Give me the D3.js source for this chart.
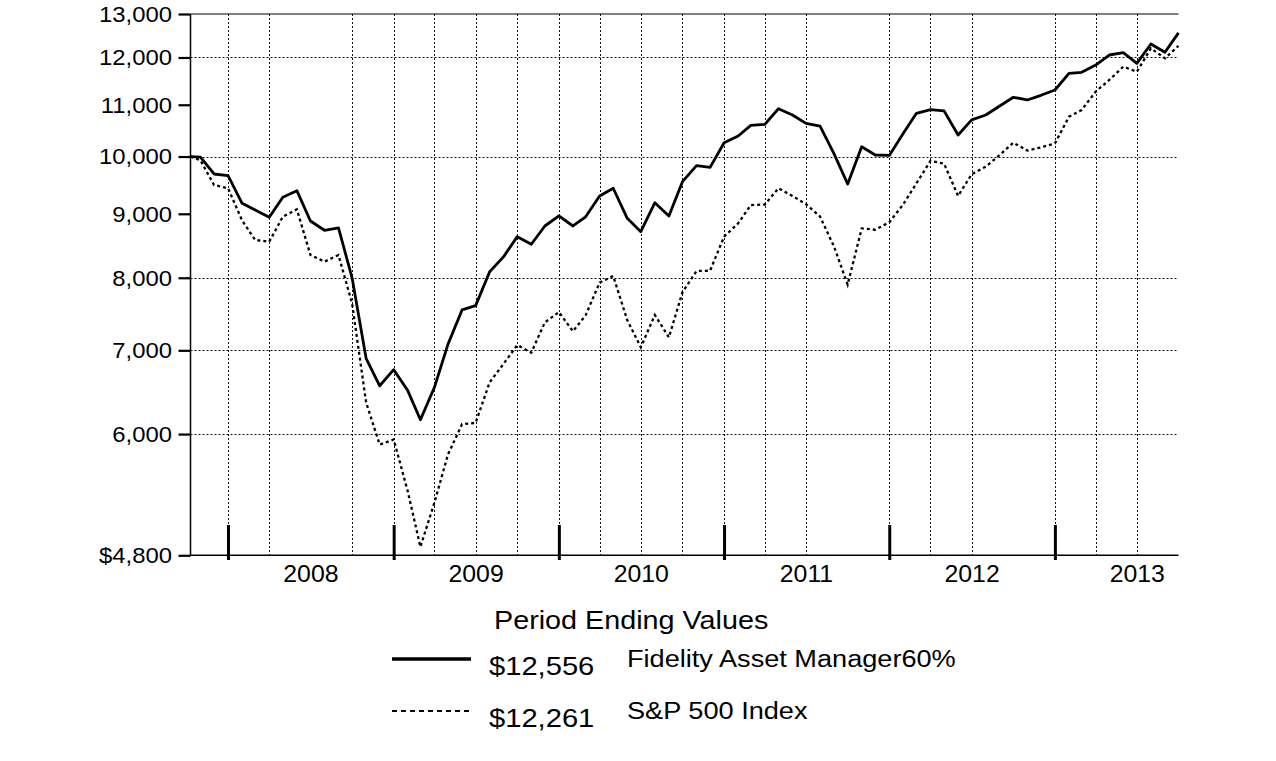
<!DOCTYPE html>
<html>
<head>
<meta charset="utf-8">
<script src="https://cdn.jsdelivr.net/npm/d3@7"></script>
<style>
  html, body { margin: 0; padding: 0; background: #fff; }
  svg { display: block; }
  text { font-family: "Liberation Sans", Arial, sans-serif; fill: #000; }
</style>
</head>
<body>
<script>
// ---------------- data ----------------
const dates = [
  "2007-10-09","2007-10-31","2007-11-30","2007-12-31",
  "2008-01-31","2008-02-29","2008-03-31","2008-04-30","2008-05-31","2008-06-30",
  "2008-07-31","2008-08-31","2008-09-30","2008-10-31","2008-11-30","2008-12-31",
  "2009-01-31","2009-02-28","2009-03-31","2009-04-30","2009-05-31","2009-06-30",
  "2009-07-31","2009-08-31","2009-09-30","2009-10-31","2009-11-30","2009-12-31",
  "2010-01-31","2010-02-28","2010-03-31","2010-04-30","2010-05-31","2010-06-30",
  "2010-07-31","2010-08-31","2010-09-30","2010-10-31","2010-11-30","2010-12-31",
  "2011-01-31","2011-02-28","2011-03-31","2011-04-30","2011-05-31","2011-06-30",
  "2011-07-31","2011-08-31","2011-09-30","2011-10-31","2011-11-30","2011-12-31",
  "2012-01-31","2012-02-29","2012-03-31","2012-04-30","2012-05-31","2012-06-30",
  "2012-07-31","2012-08-31","2012-09-30","2012-10-31","2012-11-30","2012-12-31",
  "2013-01-31","2013-02-28","2013-03-31","2013-04-30","2013-05-31","2013-06-30",
  "2013-07-31","2013-08-31","2013-09-30"
];

const fundValues = [
  10000, 9990, 9684, 9654,
  9176, 9062, 8942, 9277, 9391, 8881, 8731, 8768, 8000, 6898, 6558, 6755,
  6500, 6160, 6540, 7080, 7540, 7600, 8090, 8317, 8629, 8509, 8800, 8964,
  8800, 8950, 9299, 9433, 8925, 8709, 9186, 8964, 9548, 9833, 9803, 10258,
  10386, 10591, 10610, 10920, 10795, 10630, 10578, 10050, 9507, 10183, 10028, 10020,
  10437, 10828, 10900, 10877, 10405, 10697, 10795, 10974, 11153, 11097, 11193, 11303,
  11656, 11677, 11835, 12055, 12107, 11872, 12302, 12115, 12556
];

const spValues = [
  10000, 9930, 9490, 9433,
  8890, 8576, 8550, 8952, 9074, 8342, 8241, 8342, 7630, 6360, 5885, 5940,
  5400, 4875, 5290, 5780, 6110, 6125, 6600, 6830, 7068, 6970, 7370, 7510,
  7250, 7465, 7930, 8026, 7400, 7040, 7470, 7170, 7790, 8100, 8105, 8629,
  8843, 9146, 9155, 9433, 9300, 9160, 8955, 8471, 7900, 8760, 8740, 8860,
  9160, 9520, 9920, 9870, 9300, 9680, 9815, 10028, 10258, 10110, 10170, 10245,
  10761, 10894, 11268, 11513, 11799, 11690, 12204, 11982, 12261
];

const seriesNames = ["Fidelity Asset Manager60%", "S&P 500 Index"];
const endingLabels = ["$12,556", "$12,261"];
const legendTitle = "Period Ending Values";

const yTickValues = [4800, 6000, 7000, 8000, 9000, 10000, 11000, 12000, 13000];
const yTickLabels = ["$4,800", "6,000", "7,000", "8,000", "9,000", "10,000", "11,000", "12,000", "13,000"];
const yGridValues = [6000, 7000, 8000, 10000, 12000];

const yearTickDates = ["2008-01-01","2009-01-01","2010-01-01","2011-01-01","2012-01-01","2013-01-01"];
const yearLabels = ["2008","2009","2010","2011","2012","2013"];
const yearLabelDates = ["2008-07-01","2009-07-01","2010-07-01","2011-07-01","2012-07-01","2013-07-01"];
const xGridDates = [
  "2007-12-31","2008-03-31","2008-09-30","2008-12-31",
  "2009-03-31","2009-06-30","2009-09-30","2009-12-31",
  "2010-03-31","2010-06-30","2010-09-30","2010-12-31",
  "2011-03-31","2011-06-30","2011-12-31",
  "2012-03-31","2012-06-30","2012-12-31",
  "2013-03-31","2013-06-30"
];

// ---------------- layout ----------------
const W = 1276, H = 761;
const pL = 190.5, pR = 1178.5, pT = 14, pB = 555.3;
const parse = s => new Date(s + "T00:00:00Z");

const svg = d3.select("body").append("svg").attr("width", W).attr("height", H);

const x = d3.scaleUtc()
  .domain([parse(dates[0]), parse(dates[dates.length - 1])])
  .range([pL, pR]);
const y = d3.scaleLog().domain([4800, 13000]).range([pB, pT]);

// grid
const grid = svg.append("g");
grid.selectAll("line.hg").data(yGridValues).join("line")
  .attr("x1", pL).attr("x2", pR)
  .attr("y1", d => Math.round(y(d)) + 0.5).attr("y2", d => Math.round(y(d)) + 0.5)
  .attr("stroke", "#111").attr("stroke-width", 1).attr("stroke-dasharray", "2,2");
grid.selectAll("line.vg").data(xGridDates).join("line")
  .attr("x1", d => Math.round(x(parse(d))) + 0.5).attr("x2", d => Math.round(x(parse(d))) + 0.5)
  .attr("y1", pT).attr("y2", pB)
  .attr("stroke", "#111").attr("stroke-width", 1).attr("stroke-dasharray", "2,2");

// frame: top line, bottom axis line, left axis
svg.append("line").attr("x1", pL).attr("x2", pR).attr("y1", pT).attr("y2", pT)
  .attr("stroke", "#000").attr("stroke-width", 1.2);
svg.append("line").attr("x1", pL).attr("x2", pR).attr("y1", pB).attr("y2", pB)
  .attr("stroke", "#000").attr("stroke-width", 1.5);

const yAxis = d3.axisLeft(y).tickValues(yTickValues).tickSize(12).tickFormat("");
const yg = svg.append("g").attr("transform", `translate(${pL},0)`).call(yAxis);
yg.select(".domain").attr("stroke", "#000").attr("stroke-width", 1.5).attr("d", `M0,${pT}V${pB}`);
yg.selectAll(".tick line").attr("stroke", "#000").attr("stroke-width", 2.2);

// y labels (slightly widened glyphs like the reference)
svg.append("g").selectAll("text").data(yTickValues).join("text")
  .attr("transform", d => `translate(172,${y(d)}) scale(1.11,1)`)
  .attr("text-anchor", "end").attr("dy", "0.36em")
  .style("font-size", "21.5px")
  .text((d, i) => yTickLabels[i]);

// year ticks
svg.append("g").selectAll("line").data(yearTickDates).join("line")
  .attr("x1", d => x(parse(d))).attr("x2", d => x(parse(d)))
  .attr("y1", 525).attr("y2", 560)
  .attr("stroke", "#000").attr("stroke-width", 3);

// year labels
svg.append("g").selectAll("text").data(yearLabelDates).join("text")
  .attr("transform", d => `translate(${x(parse(d))},582) scale(1.08,1)`)
  .attr("text-anchor", "middle")
  .style("font-size", "23px")
  .text((d, i) => yearLabels[i]);

// series lines
const mk = vals => dates.map((d, i) => ({ date: parse(d), value: vals[i] }));
const line = d3.line().x(d => x(d.date)).y(d => y(d.value));

svg.append("path").datum(mk(spValues))
  .attr("d", line).attr("fill", "none").attr("stroke", "#000")
  .attr("stroke-width", 2.3).attr("stroke-dasharray", "3,3");
svg.append("path").datum(mk(fundValues))
  .attr("d", line).attr("fill", "none").attr("stroke", "#000")
  .attr("stroke-width", 2.8).attr("stroke-linejoin", "round");

// legend
svg.append("text").attr("transform", "translate(494,629) scale(1.15,1)")
  .style("font-size", "25px").text(legendTitle);

const lg = svg.append("g");
lg.append("line").attr("x1", 392).attr("x2", 471).attr("y1", 659).attr("y2", 659)
  .attr("stroke", "#000").attr("stroke-width", 3.5);
lg.append("line").attr("x1", 392).attr("x2", 470).attr("y1", 711).attr("y2", 711)
  .attr("stroke", "#000").attr("stroke-width", 2).attr("stroke-dasharray", "5,4");

lg.selectAll("text.val").data(endingLabels).join("text").attr("class", "val")
  .attr("transform", (d, i) => `translate(489,${675 + i * 52}) scale(1.1,1)`)
  .style("font-size", "26.5px").text(d => d);
lg.selectAll("text.name").data(seriesNames).join("text").attr("class", "name")
  .attr("transform", (d, i) => `translate(627,${667 + i * 52}) scale(1.16,1)`)
  .style("font-size", "23.4px").text(d => d);
</script>
</body>
</html>
